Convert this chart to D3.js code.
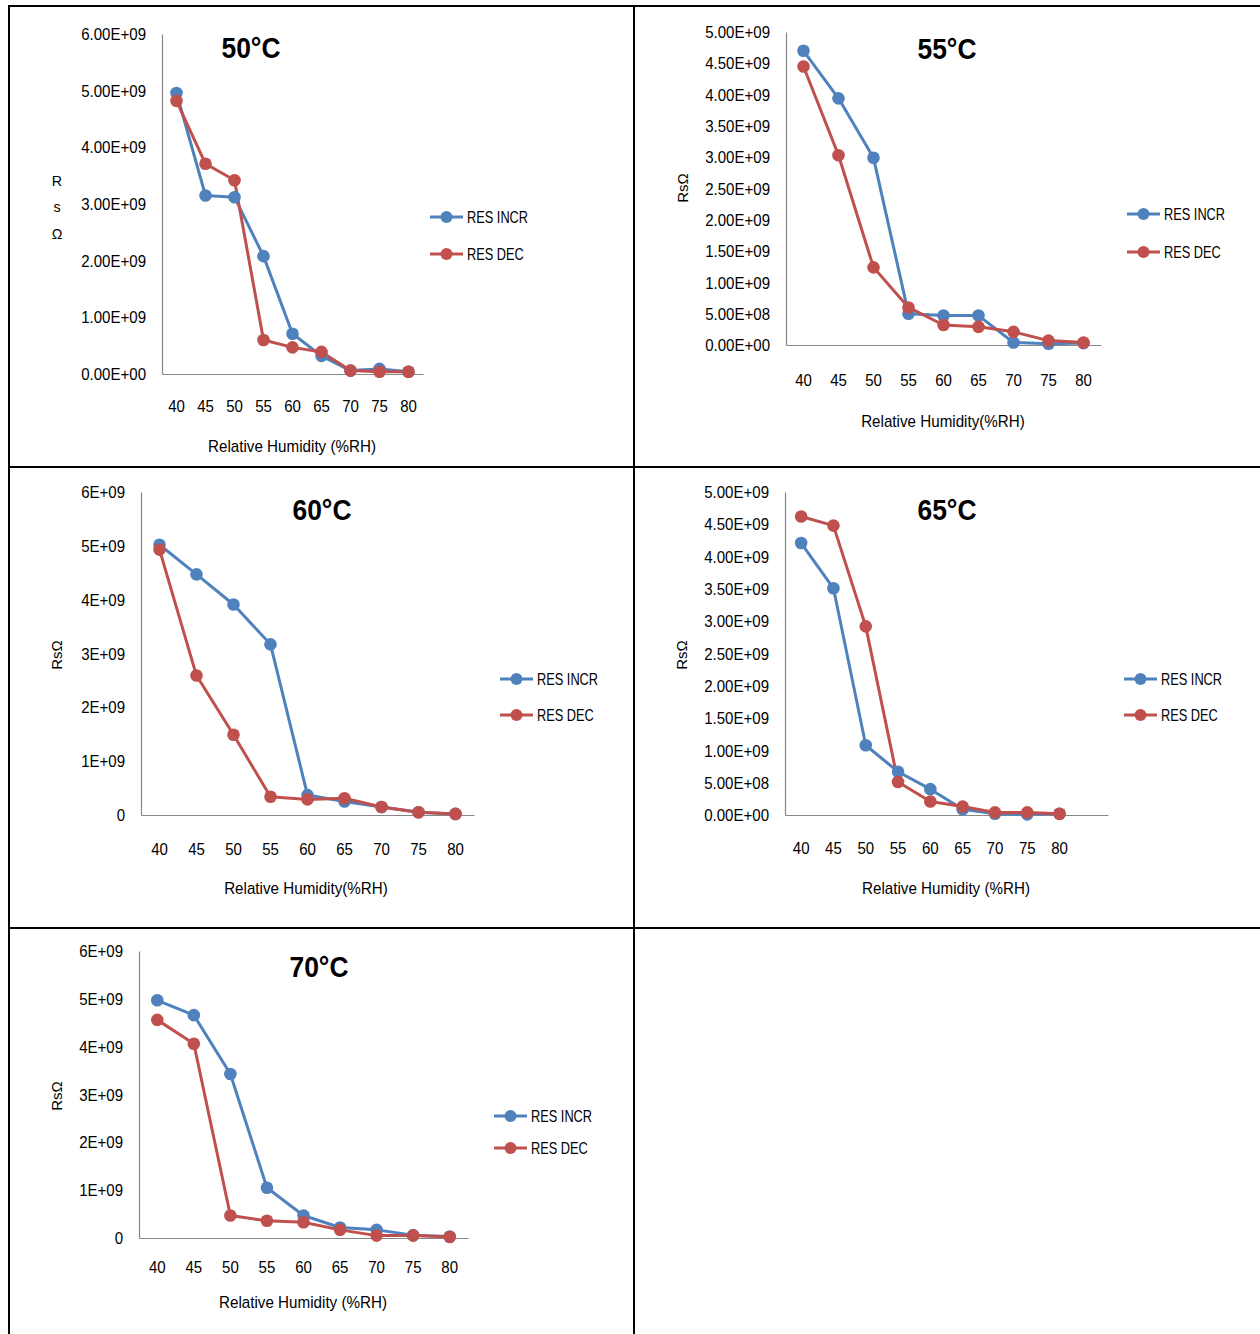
<!DOCTYPE html>
<html>
<head>
<meta charset="utf-8">
<script src="https://cdn.jsdelivr.net/npm/d3@7"></script>
<style>
  html, body { margin: 0; padding: 0; background: #fff; }
  svg { display: block; }
  text { font-family: "Liberation Sans", Arial, sans-serif; fill: #000; }
</style>
</head>
<body>
<svg id="chart" width="1260" height="1334"></svg>
<script>
// Relative humidity steps (%RH)
const humidity = ["40", "45", "50", "55", "60", "65", "70", "75", "80"];
const humidity65 = ["40", "45", "50", "55", "60", "65", "70", "75", "80", ""];

// Sensor resistance Rs (Ω) for increasing / decreasing humidity sweeps
const incr50 = [4.96e9, 3.15e9, 3.12e9, 2.08e9, 0.71e9, 0.32e9, 0.06e9, 0.09e9, 0.04e9];
const dec50  = [4.82e9, 3.71e9, 3.42e9, 0.60e9, 0.47e9, 0.39e9, 0.06e9, 0.04e9, 0.04e9];

const incr55 = [4.70e9, 3.94e9, 2.99e9, 0.50e9, 0.47e9, 0.47e9, 0.04e9, 0.02e9, 0.03e9];
const dec55  = [4.45e9, 3.03e9, 1.24e9, 0.60e9, 0.32e9, 0.29e9, 0.21e9, 0.07e9, 0.04e9];

const incr60 = [5.02e9, 4.47e9, 3.91e9, 3.17e9, 0.37e9, 0.25e9, 0.15e9, 0.05e9, 0.02e9];
const dec60  = [4.93e9, 2.59e9, 1.49e9, 0.34e9, 0.29e9, 0.31e9, 0.15e9, 0.05e9, 0.02e9];

const incr65 = [4.21e9, 3.51e9, 1.08e9, 0.67e9, 0.40e9, 0.09e9, 0.02e9, 0.01e9, 0.02e9];
const dec65  = [4.62e9, 4.48e9, 2.92e9, 0.51e9, 0.21e9, 0.13e9, 0.04e9, 0.04e9, 0.02e9];

const incr70 = [4.97e9, 4.66e9, 3.43e9, 1.05e9, 0.47e9, 0.22e9, 0.17e9, 0.06e9, 0.03e9];
const dec70  = [4.56e9, 4.06e9, 0.47e9, 0.36e9, 0.33e9, 0.17e9, 0.05e9, 0.05e9, 0.02e9];

// Y-axis tick values and their labels
const ticks6 = [0, 1e9, 2e9, 3e9, 4e9, 5e9, 6e9];
const ticks5 = [0, 0.5e9, 1e9, 1.5e9, 2e9, 2.5e9, 3e9, 3.5e9, 4e9, 4.5e9, 5e9];
const ticks6Sci = ["0.00E+00", "1.00E+09", "2.00E+09", "3.00E+09", "4.00E+09", "5.00E+09", "6.00E+09"];
const ticks6Short = ["0", "1E+09", "2E+09", "3E+09", "4E+09", "5E+09", "6E+09"];
const ticks5Sci = ["0.00E+00", "5.00E+08", "1.00E+09", "1.50E+09", "2.00E+09", "2.50E+09",
                   "3.00E+09", "3.50E+09", "4.00E+09", "4.50E+09", "5.00E+09"];

const seriesNames = ["RES INCR", "RES DEC"];
const titles = ["50°C", "55°C", "60°C", "65°C", "70°C"];
const xTitles = ["Relative Humidity (%RH)", "Relative Humidity(%RH)", "Relative Humidity(%RH)",
                 "Relative Humidity (%RH)", "Relative Humidity (%RH)"];

const colors = ["#4F81BD", "#C0504D"];

// Panel geometry inside the table cells
const panels = [
  { title: titles[0], cats: humidity, incr: incr50, dec: dec50, ticks: ticks6, tickLabels: ticks6Sci, max: 6e9,
    x0: 162, x1: 423, yTop: 34, yBase: 374, titleX: 251, titleY: 47,
    legX: 430, legY: [217, 254], yTitleX: 57, yTitleY: 207, stacked: true,
    xTitle: xTitles[0], xTitleX: 292, xTitleY: 446, tickY: 406 },
  { title: titles[1], cats: humidity, incr: incr55, dec: dec55, ticks: ticks5, tickLabels: ticks5Sci, max: 5e9,
    x0: 786, x1: 1101, yTop: 32, yBase: 345, titleX: 947, titleY: 48,
    legX: 1127, legY: [214, 252], yTitleX: 683, yTitleY: 188, stacked: false,
    xTitle: xTitles[1], xTitleX: 943, xTitleY: 421, tickY: 380 },
  { title: titles[2], cats: humidity, incr: incr60, dec: dec60, ticks: ticks6, tickLabels: ticks6Short, max: 6e9,
    x0: 141, x1: 474, yTop: 492, yBase: 815, titleX: 322, titleY: 509,
    legX: 500, legY: [679, 715], yTitleX: 57, yTitleY: 655, stacked: false,
    xTitle: xTitles[2], xTitleX: 306, xTitleY: 888, tickY: 849 },
  { title: titles[3], cats: humidity65, incr: incr65, dec: dec65, ticks: ticks5, tickLabels: ticks5Sci, max: 5e9,
    x0: 785, x1: 1108, yTop: 492, yBase: 815, titleX: 947, titleY: 509,
    legX: 1124, legY: [679, 715], yTitleX: 682, yTitleY: 655, stacked: false,
    xTitle: xTitles[3], xTitleX: 946, xTitleY: 888, tickY: 848 },
  { title: titles[4], cats: humidity, incr: incr70, dec: dec70, ticks: ticks6, tickLabels: ticks6Short, max: 6e9,
    x0: 139, x1: 468, yTop: 951, yBase: 1238, titleX: 319, titleY: 966,
    legX: 494, legY: [1116, 1148], yTitleX: 57, yTitleY: 1096, stacked: false,
    xTitle: xTitles[4], xTitleX: 303, xTitleY: 1302, tickY: 1267 }
];

const svg = d3.select("#chart");

// Narrow text: place at (x, y) and squeeze horizontally
function label(g, x, y, str, size, sx, opts = {}) {
  return g.append("text")
    .attr("transform", `translate(${x},${y}) scale(${sx},1)`)
    .attr("dy", "0.35em")
    .attr("text-anchor", opts.anchor || "middle")
    .attr("font-size", size)
    .attr("font-weight", opts.bold ? "bold" : null)
    .text(str);
}

// Table grid lines
const grid = svg.append("g").attr("stroke", "#000").attr("stroke-width", 2);
grid.append("line").attr("x1", 8).attr("x2", 1260).attr("y1", 6).attr("y2", 6);
grid.append("line").attr("x1", 8).attr("x2", 1260).attr("y1", 467).attr("y2", 467);
grid.append("line").attr("x1", 8).attr("x2", 1260).attr("y1", 928).attr("y2", 928);
grid.append("line").attr("x1", 9).attr("x2", 9).attr("y1", 5).attr("y2", 1334);
grid.append("line").attr("x1", 634).attr("x2", 634).attr("y1", 5).attr("y2", 1334);

const TICK_SX = 0.94;

panels.forEach(p => {
  const g = svg.append("g");

  const x = d3.scaleBand().domain(p.cats).range([p.x0, p.x1]).padding(0);
  const y = d3.scaleLinear().domain([0, p.max]).range([p.yBase, p.yTop]);
  const cx = d => x(d) + x.bandwidth() / 2;

  // Y axis (line + labels)
  const yAxis = d3.axisLeft(y).tickValues(p.ticks).tickSize(0).tickPadding(16)
    .tickFormat((d, i) => p.tickLabels[i]);
  const yg = g.append("g").attr("transform", `translate(${p.x0},0)`).call(yAxis);
  yg.select(".domain").attr("stroke", "#878787").attr("stroke-width", 1.2);
  yg.selectAll(".tick text").attr("font-size", 16).attr("font-family", null)
    .attr("dy", "0.35em").attr("x", -16 / TICK_SX).attr("transform", `scale(${TICK_SX},1)`);

  // X axis (line + labels)
  const xAxis = d3.axisBottom(x).tickSize(0).tickPadding(0).tickFormat(d => d);
  const xg = g.append("g").attr("transform", `translate(0,${p.yBase})`).call(xAxis);
  xg.select(".domain").attr("stroke", "#878787").attr("stroke-width", 1.2);
  xg.selectAll(".tick text").attr("font-size", 16).attr("font-family", null)
    .attr("y", p.tickY - p.yBase).attr("dy", "0.35em").attr("transform", `scale(${TICK_SX},1)`);

  // Series lines and markers
  const series = [p.incr, p.dec];
  series.forEach((vals, si) => {
    const pts = vals.map((v, i) => [cx(p.cats[i]), y(v)]);
    g.append("path").attr("d", d3.line()(pts)).attr("fill", "none")
      .attr("stroke", colors[si]).attr("stroke-width", 3).attr("stroke-linejoin", "round");
  });
  series.forEach((vals, si) => {
    g.selectAll(null).data(vals).join("circle")
      .attr("cx", (v, i) => cx(p.cats[i])).attr("cy", v => y(v)).attr("r", 6.3)
      .attr("fill", colors[si]);
  });

  // Title
  label(g, p.titleX, p.titleY, p.title, 30, 0.88, { bold: true });

  // Y title
  if (p.stacked) {
    ["R", "s", "Ω"].forEach((c, i) => label(g, p.yTitleX, p.yTitleY + (i - 1) * 26.5, c, 15, 0.95));
  } else {
    g.append("text").attr("transform", `translate(${p.yTitleX},${p.yTitleY}) rotate(-90) scale(1,0.92)`)
      .attr("dy", "0.35em").attr("text-anchor", "middle").attr("font-size", 15).text("RsΩ");
  }

  // X title
  label(g, p.xTitleX, p.xTitleY, p.xTitle, 16, 0.95);

  // Legend
  seriesNames.forEach((name, si) => {
    const ly = p.legY[si];
    g.append("line").attr("x1", p.legX).attr("x2", p.legX + 33).attr("y1", ly).attr("y2", ly)
      .attr("stroke", colors[si]).attr("stroke-width", 3);
    g.append("circle").attr("cx", p.legX + 16.5).attr("cy", ly).attr("r", 6).attr("fill", colors[si]);
    label(g, p.legX + 37, ly, name, 16, 0.8, { anchor: "start" });
  });
});
</script>
</body>
</html>
